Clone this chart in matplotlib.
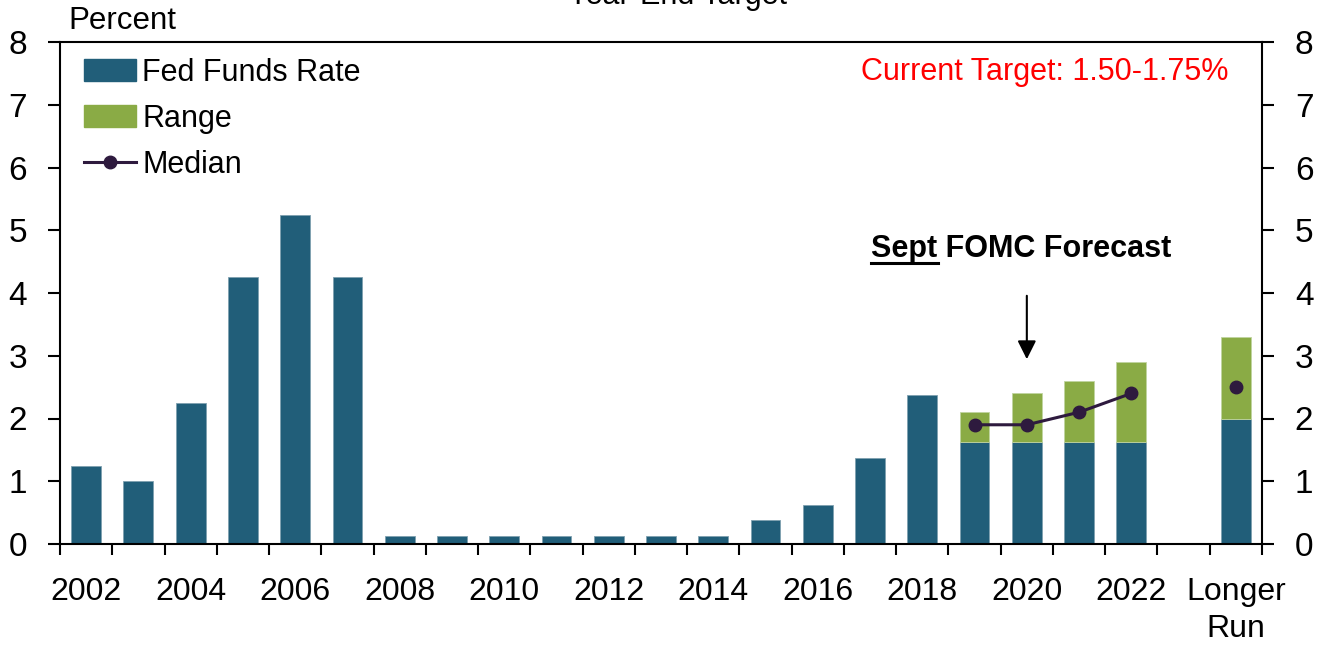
import numpy as np
import matplotlib.pyplot as plt
from matplotlib.lines import Line2D
from matplotlib.patches import Patch

plt.rcParams['font.family'] = ['Liberation Sans', 'DejaVu Sans']

# slots: 2002..2022, empty 2023 slot, longer run
slot_labels = ['2002', '', '2004', '', '2006', '', '2008', '', '2010', '', '2012', '',
               '2014', '', '2016', '', '2018', '', '2020', '', '2022', '', 'Longer\nRun']
fed_funds = [1.25, 1.0, 2.25, 4.25, 5.25, 4.25, 0.125, 0.125, 0.125, 0.125, 0.125, 0.125,
             0.125, 0.375, 0.625, 1.375, 2.375, 1.625, 1.625, 1.625, 1.625, np.nan, 2.0]
range_top = [np.nan] * 17 + [2.1, 2.4, 2.6, 2.9, np.nan, 3.3]
median = [np.nan] * 17 + [1.9, 1.9, 2.1, 2.4, np.nan, 2.5]

blue = '#215e79'
green = '#8aab45'
purple = '#2e1a3e'

fig = plt.figure(figsize=(13.17, 6.47), dpi=100)
ax = fig.add_axes([60 / 1317, 1 - 544 / 647, 1202 / 1317, 502 / 647])

x = np.arange(len(slot_labels))
ff = np.array(fed_funds, dtype=float)
rt = np.array(range_top, dtype=float)
md = np.array(median, dtype=float)

ax.bar(x, ff, width=0.57, color=blue, edgecolor='#7fa0b0', linewidth=0.6)
ax.bar(x, rt - ff, bottom=ff, width=0.57, color=green, edgecolor='#c0d4a0', linewidth=0.6)
ax.plot(x[17:21], md[17:21], color=purple, lw=2.2, marker='o', ms=9)
ax.plot(x[22], md[22], color=purple, marker='o', ms=9, lw=0)

ax.set_xlim(-0.5, len(slot_labels) - 0.5)
ax.set_ylim(0, 8)
ax.set_xticks(x[::2])
ax.set_xticklabels(slot_labels[::2], linespacing=1.3)
ax.set_xticks(np.arange(-0.5, len(slot_labels)), minor=True)
ax.tick_params(axis='x', which='major', length=0, pad=24, labelsize=23)
ax.tick_params(axis='x', which='minor', length=8, width=1.5, direction='out')
ax.set_yticks(range(9))
ax.tick_params(axis='y', which='major', length=8.6, width=1.5, direction='out',
               labelsize=24, pad=15, left=True, right=True, labelright=True)
for s in ax.spines.values():
    s.set_linewidth(1.5)

ax.text(0.007, 1.012, 'Percent', transform=ax.transAxes, fontsize=22.5, va='bottom')
fig.text(677 / 1317, 1 - 4 / 647, 'Year-End Target', fontsize=22, ha='center', va='baseline')

handles = [Patch(color=blue), Patch(color=green),
           Line2D([], [], color=purple, lw=2.2, marker='o', ms=9)]
ax.legend(handles, ['Fed Funds Rate', 'Range', 'Median'], loc='upper left',
          bbox_to_anchor=(0.005, 1.005), frameon=False, fontsize=22, handlelength=1.7,
          handletextpad=0.2, labelspacing=0.52, borderaxespad=0.2)

ax.text(0.972, 0.94, 'Current Target: 1.50-1.75%', transform=ax.transAxes, color='red',
        fontsize=22, ha='right', va='center')

# forecast annotation with "Sept" underlined
label = ax.text(17.9, 4.7, 'Sept FOMC Forecast', fontsize=22, fontweight='bold',
                ha='center', va='center')
fig.canvas.draw()
r = fig.canvas.get_renderer()
bb = label.get_window_extent(r)
probe = ax.text(0, 0, 'Sept', fontsize=22, fontweight='bold')
pw = probe.get_window_extent(r).width
probe.remove()
inv = fig.transFigure.inverted()
x0, y0 = inv.transform((bb.x0, bb.y0 + 1))
x1, _ = inv.transform((bb.x0 + pw, bb.y0 + 1))
fig.add_artist(Line2D([x0, x1], [y0, y0], color='black', lw=2.2, transform=fig.transFigure))

ax.annotate('', xy=(18, 2.9), xytext=(18, 4.0),
            arrowprops=dict(arrowstyle='-|>', color='black', lw=1.5, mutation_scale=28))

fig.savefig('out.png', dpi=100)
